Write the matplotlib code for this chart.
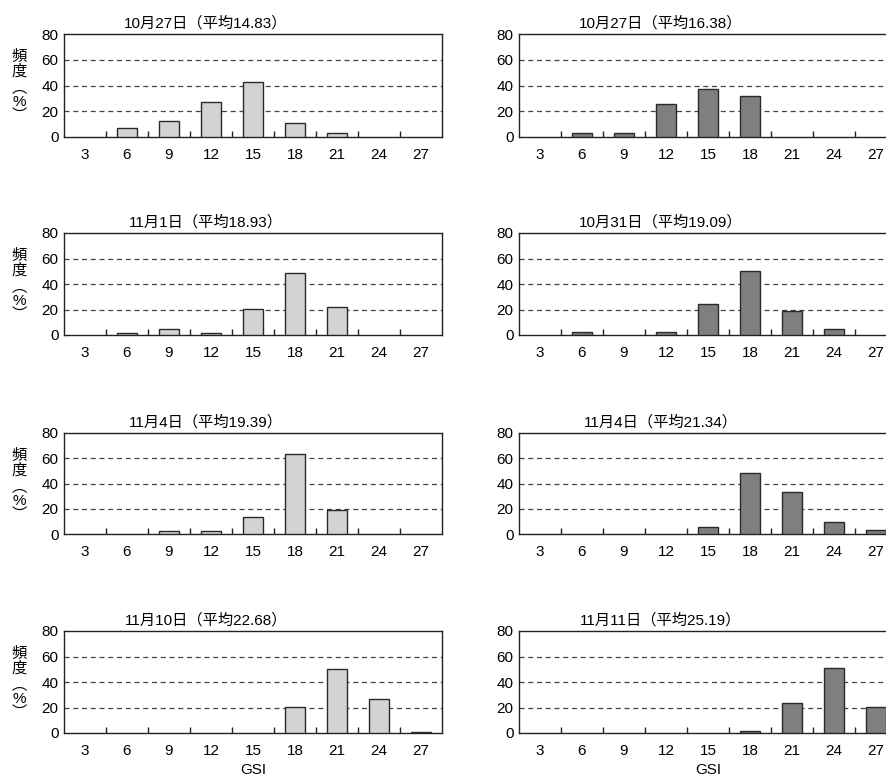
import matplotlib
matplotlib.use("Agg")
import matplotlib.pyplot as plt
import numpy as np

plt.rcParams['font.family'] = ['Liberation Sans', 'Noto Sans CJK JP']

gsi_classes = ["3", "6", "9", "12", "15", "18", "21", "24", "27"]

# left column (light bars)
titles_left = ["10月27日（平均14.83）", "11月1日（平均18.93）",
               "11月4日（平均19.39）", "11月10日（平均22.68）"]
freq_left_1 = [0, 7, 12.5, 27.5, 43, 11, 3, 0, 0]
freq_left_2 = [0, 1.6, 4.5, 1.6, 20.5, 48.6, 22.3, 0, 0]
freq_left_3 = [0, 0, 2, 2, 13.7, 63.4, 19.2, 0, 0]
freq_left_4 = [0, 0, 0, 0, 0, 20.5, 50, 26.6, 1]

# right column (dark bars)
titles_right = ["10月27日（平均16.38）", "10月31日（平均19.09）",
                "11月4日（平均21.34）", "11月11日（平均25.19）"]
freq_right_1 = [0, 3, 3, 26, 37.6, 31.6, 0, 0, 0]
freq_right_2 = [0, 2, 0, 2, 24, 50.4, 19, 4.7, 0]
freq_right_3 = [0, 0, 0, 0, 5.5, 48.4, 32.9, 9.2, 2.9]
freq_right_4 = [0, 0, 0, 0, 0, 1.8, 23.7, 51, 20.3]

yticks = [0, 20, 40, 60, 80]

W, H = 886, 778
fig = plt.figure(figsize=(W / 100, H / 100), dpi=100)

row_px = [(34, 137), (233, 335), (433, 534), (631, 733)]
col_px = [64, 519]
ax_w_px = 378

left_data = [freq_left_1, freq_left_2, freq_left_3, freq_left_4]
right_data = [freq_right_1, freq_right_2, freq_right_3, freq_right_4]

x = np.arange(len(gsi_classes))


def draw_panel(ax, values, title, color, xlabel):
    ax.set_xlim(-0.5, len(gsi_classes) - 0.5)
    ax.set_ylim(0, 80)
    for yv in [20, 40, 60]:
        ax.axhline(yv, color='#444444', lw=0.9, ls=(0, (4, 3)), zorder=1)
    vals = np.asarray(values, dtype=float)
    nz = vals > 0
    ax.bar(x[nz], vals[nz], width=0.48, color=color, edgecolor='#2a2a2a',
           linewidth=1.0, zorder=3)
    ax.set_yticks(yticks)
    ax.set_yticklabels([str(v) for v in yticks], fontsize=11)
    ax.set_xticks(x)
    ax.set_xticklabels(gsi_classes, fontsize=11)
    ax.set_xticks(np.arange(0.5, len(gsi_classes) - 1, 1.0), minor=True)
    ax.tick_params(axis='x', which='major', length=0, pad=8)
    ax.tick_params(axis='x', which='minor', direction='in', length=4,
                   width=1, color='#222222')
    ax.tick_params(axis='y', length=0, pad=4)
    for s in ax.spines.values():
        s.set_color('#222222')
        s.set_linewidth(1.0)
    ax.text(0.375, 1.035, title, transform=ax.transAxes, ha='center',
            va='bottom', fontsize=11)
    if xlabel:
        ax.text(0.5, -0.36, "GSI", transform=ax.transAxes, ha='center',
                va='center', fontsize=11)


for r, (top, bot) in enumerate(row_px):
    for c in range(2):
        left = col_px[c]
        ax = fig.add_axes([left / W, 1 - bot / H, ax_w_px / W, (bot - top) / H])
        if c == 0:
            draw_panel(ax, left_data[r], titles_left[r], '#d3d3d3', r == 3)
        else:
            draw_panel(ax, right_data[r], titles_right[r], '#7f7f7f', r == 3)
    # vertical y-axis label: 頻度（%）
    xl = 19 / W
    fig.text(xl, 1 - (top + 30) / H, "頻\n度", ha='center', va='center',
             fontsize=11, linespacing=1.1)
    fig.text(xl, 1 - (top + 68) / H, "︵\n%\n︶", ha='center', va='center',
             fontsize=11, linespacing=1.0)

fig.savefig("out.png", dpi=100)
